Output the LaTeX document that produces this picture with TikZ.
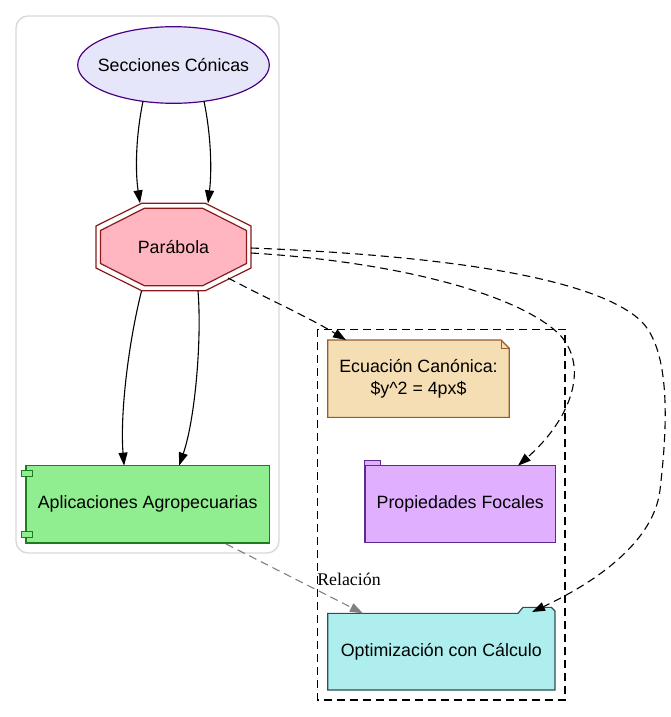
\documentclass[tikz,border=0pt]{standalone}
\usepackage{fontspec}
\setmainfont{Liberation Sans}
\newfontfamily\relfont{Liberation Serif}
\usetikzlibrary{arrows.meta,calc,shapes.geometric}
\pgfdeclarelayer{bg}
\pgfsetlayers{bg,main}
\definecolor{lav}{HTML}{E6E6FA}
\definecolor{indig}{HTML}{4B0082}
\definecolor{pinkf}{HTML}{FFB6C1}
\definecolor{dred}{HTML}{8B1A1A}
\definecolor{lgreen}{HTML}{90EE90}
\definecolor{dgreen}{HTML}{1E7B1E}
\definecolor{wheatf}{HTML}{F5DEB3}
\definecolor{sienn}{HTML}{9A5A2A}
\definecolor{mauvef}{HTML}{E0B0FF}
\definecolor{purp}{HTML}{5E2A8E}
\definecolor{turq}{HTML}{AFEEEE}
\definecolor{slate}{HTML}{2F4F4F}
\definecolor{clgray}{HTML}{D9D9D9}
\definecolor{edgegray}{HTML}{808080}
\begin{document}
\begin{tikzpicture}[x=1pt,y=-1pt,
  every node/.style={font=\fontsize{17.8}{21.5}\selectfont, inner sep=0pt, outer sep=0pt},
  conn/.style={line width=1.1pt, -{Triangle[length=13pt,width=9pt]}},
  dconn/.style={conn, dash pattern=on 8pt off 5pt},
  border/.style={line width=1.2pt}]
\useasboundingbox (0,0) rectangle (670,717);
% clusters
\draw[draw=clgray, line width=1.4pt, rounded corners=12pt] (16,16) rectangle (279,553);
\draw[line width=1.1pt, dash pattern=on 8pt off 5pt] (317.3,329.3) rectangle (565,700);
% nodes
\node[minimum width=191.6pt, minimum height=76.6pt] (sec) at (173.5,65) {Secciones Cónicas};
\node[minimum width=155pt, minimum height=87.4pt] (par) at (173.5,247) {Parábola};
\node[draw=dgreen, fill=lgreen, border, minimum width=243.3pt, minimum height=77.3pt] (apl) at (147.7,504.3) {Aplicaciones Agropecuarias};
\node[minimum width=181.6pt, minimum height=77.3pt, align=center] (ecu) at (418.5,378.7) {Ecuación Canónica:\\\$y\textasciicircum 2 = 4px\$};
\node[draw=purp, fill=mauvef, border, minimum width=190.7pt, minimum height=77pt] (pro) at (460.3,504.2) {Propiedades Focales};
\node[minimum width=227.3pt, minimum height=76.7pt] (opt) at (441.3,651.7) {Optimización con Cálculo};
\node (rel) at (349,579) {\relfont Relación};
\begin{pgfonlayer}{bg}
  % ellipse
  \draw[draw=indig, fill=lav, border] (sec.center) ellipse [x radius=95.8, y radius=38.3];
  % double octagon
  \draw[shift={(par.center)}, draw=dred, fill=white, border]
    (-31.8,-43.7) -- (31.8,-43.7) -- (77.5,-21) -- (77.5,21) -- (31.8,43.7)
    -- (-31.8,43.7) -- (-77.5,21) -- (-77.5,-21) -- cycle;
  \draw[shift={(par.center)}, draw=dred, fill=pinkf, border]
    (-29.2,-38.7) -- (29.2,-38.7) -- (73,-16.5) -- (73,16.5) -- (29.2,38.7)
    -- (-29.2,38.7) -- (-73,16.5) -- (-73,-16.5) -- cycle;
  % note
  \draw[draw=sienn, fill=wheatf, border] (ecu.north west) -- ($(ecu.north east)+(-8.3,0)$)
    -- ($(ecu.north east)+(0,8.3)$) -- (ecu.south east) -- (ecu.south west) -- cycle;
  \draw[draw=sienn, line width=1pt] ($(ecu.north east)+(-8.3,0)$) -- ($(ecu.north east)+(-8.3,8.3)$)
    -- ($(ecu.north east)+(0,8.3)$);
  % folder
  \draw[draw=slate, fill=turq, border] (opt.south west) -- (opt.north west)
    -- ($(opt.north west)+(190.3,0)$) -- ($(opt.north west)+(195.3,-6)$)
    -- ($(opt.north east)+(-3.5,-6)$) -- ($(opt.north east)+(0,-2.3)$)
    -- (opt.south east) -- cycle;
\end{pgfonlayer}
% component tabs
\draw[draw=dgreen, fill=lgreen, line width=1pt] ($(apl.north west)+(-5,5.3)$) rectangle +(11.7,5.3);
\draw[draw=dgreen, fill=lgreen, line width=1pt] ($(apl.south west)+(-5,-11)$) rectangle +(11.7,5.3);
% tab of Propiedades
\draw[draw=purp, fill=mauvef, line width=1pt] (pro.north west) rectangle ($(pro.north west)+(16,-5)$);
% connectors
\draw[conn] ($(sec.center)+(-30.5,36.3)$) .. controls (136,135) and (135,170) .. ($(par.center)+(-33.5,-43.7)$);
\draw[conn] ($(sec.center)+(30.5,36.3)$) .. controls (211,135) and (212,170) .. ($(par.center)+(34.5,-43.7)$);
\draw[conn] ($(par.center)+(-32,44)$) .. controls (128,345) and (120,415) .. ($(apl.north west)+(98,0)$);
\draw[conn] ($(par.center)+(24.5,44)$) .. controls (202,340) and (195,420) .. ($(apl.north west)+(153,0)$);
\draw[dconn] ($(par.center)+(54.5,31)$) .. controls (270,300) and (310,318) .. ($(ecu.north west)+(18.3,0)$);
\draw[dconn] ($(par.center)+(77.5,6)$) .. controls (400,262) and (520,295) .. (560,335)
  .. controls (590,368) and (570,420) .. ($(pro.north west)+(153,0)$);
\draw[dconn] ($(par.center)+(77.5,1)$) .. controls (430,255) and (590,275) .. (640,320)
  .. controls (672,350) and (667,430) .. (660,490)
  .. controls (654,540) and (600,580) .. ($(opt.north west)+(204.3,-1.3)$);
\draw[dconn, draw=edgegray, -{Triangle[length=13pt,width=9pt,fill=edgegray]}, color=edgegray]
  ($(apl.south east)+(-43.3,1)$) -- ($(opt.north west)+(35.3,0)$);
\end{tikzpicture}
\end{document}
